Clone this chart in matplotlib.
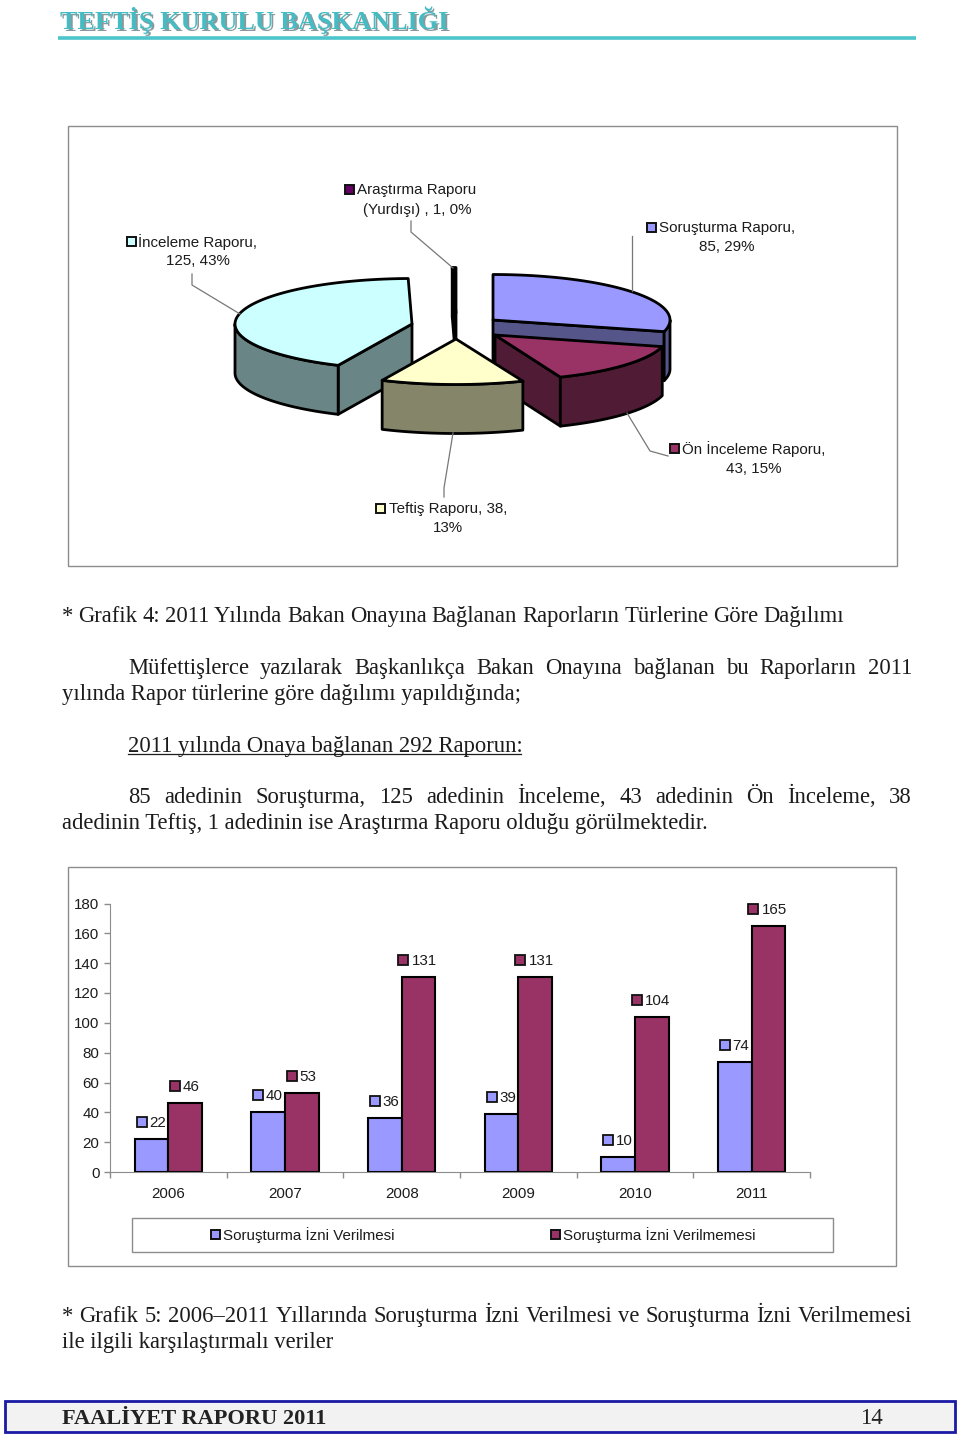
import numpy as np
import matplotlib
matplotlib.use('Agg')
import matplotlib.pyplot as plt
from matplotlib.patches import Polygon, Rectangle
from matplotlib.transforms import offset_copy

W, H = 960, 1436
SANS = 'Liberation Sans'
SERIF = 'Liberation Serif'
INK = '#1c1c1c'
GREY = '#8c8c8c'
BODY = 16.25
LABEL = 10.9

# pie data, clockwise from 12 o'clock
pie_names = ['Soruşturma Raporu', 'Ön İnceleme Raporu', 'Teftiş Raporu', 'İnceleme Raporu', 'Araştırma Raporu (Yurdışı)']
pie_values = [85, 43, 38, 125, 1]
pie_key = ['#9999ff', '#993366', '#ffffcc', '#ccffff', '#660066']
pie_top = ['#9999ff', '#993366', '#ffffcc', '#ccffff', '#000000']
pie_side = ['#55558a', '#4f1b35', '#85856a', '#6a8585', '#000000']
# exploded centre and radius of every slice (pixels), order to paint back to front
pie_centres = [(493, 320), (495, 335), (456, 339), (412, 324), (456, 313)]
pie_rx = [177, 173, 177, 177, 177]
pie_order = [4, 0, 1, 3, 2]

# bar data
years = ['2006', '2007', '2008', '2009', '2010', '2011']
izin_verilen = [22, 40, 36, 39, 10, 74]
izin_verilmeyen = [46, 53, 131, 131, 104, 165]
y_ticks = [0, 20, 40, 60, 80, 100, 120, 140, 160, 180]
bar_blue = '#9999ff'
bar_red = '#993366'

# justified text lines (text, left, right, baseline)
justified = [
    ('Müfettişlerce yazılarak Başkanlıkça Bakan Onayına bağlanan bu Raporların 2011', 128, 912, 674),
    ('85 adedinin Soruşturma, 125 adedinin İnceleme, 43 adedinin Ön İnceleme, 38', 128, 912, 803),
    ('* Grafik 5: 2006–2011 Yıllarında Soruşturma İzni Verilmesi ve Soruşturma İzni Verilmemesi', 62, 912, 1322),
    ('* Grafik 4: 2011 Yılında Bakan Onayına Bağlanan Raporların Türlerine Göre Dağılımı', 62, 844, 622),
]
plain = [
    ('yılında Rapor türlerine göre dağılımı yapıldığında;', 62, 700),
    ('2011 yılında Onaya bağlanan 292 Raporun:', 128, 752),
    ('adedinin Teftiş, 1 adedinin ise Araştırma Raporu olduğu görülmektedir.', 62, 829),
    ('ile ilgili karşılaştırmalı veriler', 62, 1348),
]

fig = plt.figure(figsize=(W / 100, H / 100), dpi=100, facecolor='white')
bg = fig.add_axes([0, 0, 1, 1])
bg.set_xlim(0, W)
bg.set_ylim(H, 0)
bg.axis('off')


def justify(line, x0, x1, y, size=BODY):
    # place the words one by one so the line fills x0..x1
    rend = fig.canvas.get_renderer()
    words = line.split(' ')
    arts = [bg.text(0, y, w, family=SERIF, fontsize=size, color=INK, va='baseline') for w in words]
    widths = [a.get_window_extent(rend).width for a in arts]
    gap = (x1 - x0 - sum(widths)) / (len(words) - 1)
    x = x0
    for a, w in zip(arts, widths):
        a.set_x(x)
        x += w + gap


def label(x, y, txt):
    bg.text(x, y, txt, family=SANS, fontsize=LABEL, color=INK, ha='center', va='center')


def swatch(x, y, c, s=9):
    bg.add_patch(Rectangle((x - s / 2, y - s / 2), s, s, fc=c, ec='#111111', lw=1.4, zorder=5))


# header
for dx, dy, c in [(1.5, 1.5, '#8a9a9c'), (0, 0, '#45bcc4')]:
    bg.text(60 + dx, 29 + dy, 'TEFTİŞ KURULU BAŞKANLIĞI', family=SERIF, fontweight='bold', fontsize=18.9,
            color=c, va='baseline')
bg.plot([58, 916], [38, 38], color='#4cc5cc', lw=2.6, solid_capstyle='butt')

# chart frames
bg.add_patch(Rectangle((68, 126), 829, 440, fc='white', ec=GREY, lw=1))
bg.add_patch(Rectangle((68, 867), 828, 399, fc='white', ec=GREY, lw=1))
bg.add_patch(Rectangle((132, 1218), 701, 34, fc='white', ec=GREY, lw=1))

# 3d pie, slices built from the values
RY, DEPTH = 45.5, 49
total = sum(pie_values)
edges = np.cumsum([0] + pie_values) / total * 2 * np.pi


def rim(cx, cy, rx, a):
    return np.column_stack([cx + rx * np.sin(a), cy - RY * np.cos(a)])


for i in pie_order:
    a0, a1 = edges[i], edges[i + 1]
    cx, cy = pie_centres[i]
    rx = pie_rx[i]
    poly = dict(ec='black', lw=2, joinstyle='round')
    drop = np.array([0, DEPTH])
    # radial walls, only when they face the viewer
    for a, seen in [(a0, np.sin(a0) < 0), (a1, np.sin(a1) > 0)]:
        if seen:
            p = rim(cx, cy, rx, np.array([a]))[0]
            c = np.array([cx, cy])
            bg.add_patch(Polygon([c, p, p + drop, c + drop], fc=pie_side[i], **poly))
    # outer wall, front half only
    lo, hi = max(a0, np.pi / 2), min(a1, 3 * np.pi / 2)
    if hi > lo:
        arc = rim(cx, cy, rx, np.linspace(lo, hi, 60))
        bg.add_patch(Polygon(np.vstack([arc, arc[::-1] + drop]), fc=pie_side[i], **poly))
    top = rim(cx, cy, rx, np.linspace(a0, a1, 80))
    bg.add_patch(Polygon(np.vstack([[cx, cy], top]), fc=pie_top[i], **poly))

# pie leader lines
for xs, ys in [([192, 192, 240], [274, 285, 314]), ([411, 411, 453], [221, 232, 268]),
               ([632, 632], [236, 291]), ([668, 650, 627], [456, 451, 413]),
               ([444, 444, 453], [497, 488, 433])]:
    bg.plot(xs, ys, color='#777777', lw=0.9)

# pie labels
label(198, 242, 'İnceleme Raporu,')
label(198, 261, '125, 43%')
swatch(131, 241, pie_key[3])
label(417, 190, 'Araştırma Raporu')
label(417, 210, '(Yurdışı) , 1, 0%')
swatch(349, 189, pie_key[4])
label(727, 228, 'Soruşturma Raporu,')
label(727, 247, '85, 29%')
swatch(651, 227, pie_key[0])
label(754, 449, 'Ön İnceleme Raporu,')
label(754, 469, '43, 15%')
swatch(674, 448, pie_key[1])
label(448, 509, 'Teftiş Raporu, 38,')
label(448, 528, '13%')
swatch(380, 508, pie_key[2])

# body text
for line, x0, x1, y in justified:
    justify(line, x0, x1, y)
for line, x, y in plain:
    bg.text(x, y, line, family=SERIF, fontsize=BODY, color=INK, va='baseline')
bg.plot([128, 521], [754, 754], color=INK, lw=0.9)

# bar chart
ax = fig.add_axes([110 / W, (H - 1172) / H, 700 / W, 268.5 / H], facecolor='none')
x = np.arange(len(years))
w = 0.288
ax.bar(x - w / 2, izin_verilen, w, color=bar_blue, edgecolor='black', lw=1.5)
ax.bar(x + w / 2, izin_verilmeyen, w, color=bar_red, edgecolor='black', lw=1.5)
ax.set_xlim(-0.5, 5.5)
ax.set_ylim(0, 180)
ax.set_yticks(y_ticks)
ax.set_xticks(x)
ax.set_xticklabels(years, family=SANS, fontsize=LABEL, color=INK)
ax.set_xticks(np.arange(-0.5, 6), minor=True)
ax.tick_params(axis='x', which='major', length=0, pad=11)
ax.tick_params(axis='x', which='minor', length=4, color=GREY, width=1)
ax.tick_params(axis='y', length=4, color=GREY, width=1, pad=3.5)
for lab in ax.get_yticklabels():
    lab.set_family(SANS)
    lab.set_fontsize(LABEL)
    lab.set_color(INK)
for s in ['top', 'right']:
    ax.spines[s].set_visible(False)
for s in ['left', 'bottom']:
    ax.spines[s].set_color(GREY)

# data labels with their little legend keys
PT = 0.72
for pos, vals, col in [(x - w / 2, izin_verilen, bar_blue), (x + w / 2, izin_verilmeyen, bar_red)]:
    for xi, v in zip(pos, vals):
        ax.annotate(str(v), (xi, v), xytext=(6 * PT, 16 * PT), textcoords='offset points', ha='center',
                    va='center', family=SANS, fontsize=LABEL, color=INK, annotation_clip=False)
        key_dx = -10 if v < 100 else -15
        tr = offset_copy(ax.transData, fig, x=key_dx * PT, y=17 * PT, units='points')
        ax.plot([xi], [v], marker='s', ms=7, mfc=col, mec='#111111', mew=1.3, transform=tr, clip_on=False)

# legend
swatch(215, 1234, bar_blue)
bg.text(223, 1235, 'Soruşturma İzni Verilmesi', family=SANS, fontsize=LABEL, color=INK, va='center')
swatch(555, 1234, bar_red)
bg.text(563, 1235, 'Soruşturma İzni Verilmemesi', family=SANS, fontsize=LABEL, color=INK, va='center')

# footer
bg.add_patch(Rectangle((5, 1401), 950, 31, fc='#f2f2f2', ec='#1a1aa6', lw=2))
bg.text(62, 1424, 'FAALİYET RAPORU 2011', family=SERIF, fontweight='bold', fontsize=16.1, color='#222222', va='baseline')
bg.text(860, 1424, '14', family=SERIF, fontsize=16.5, color='#222222', va='baseline')

fig.savefig('out.png', dpi=100)
